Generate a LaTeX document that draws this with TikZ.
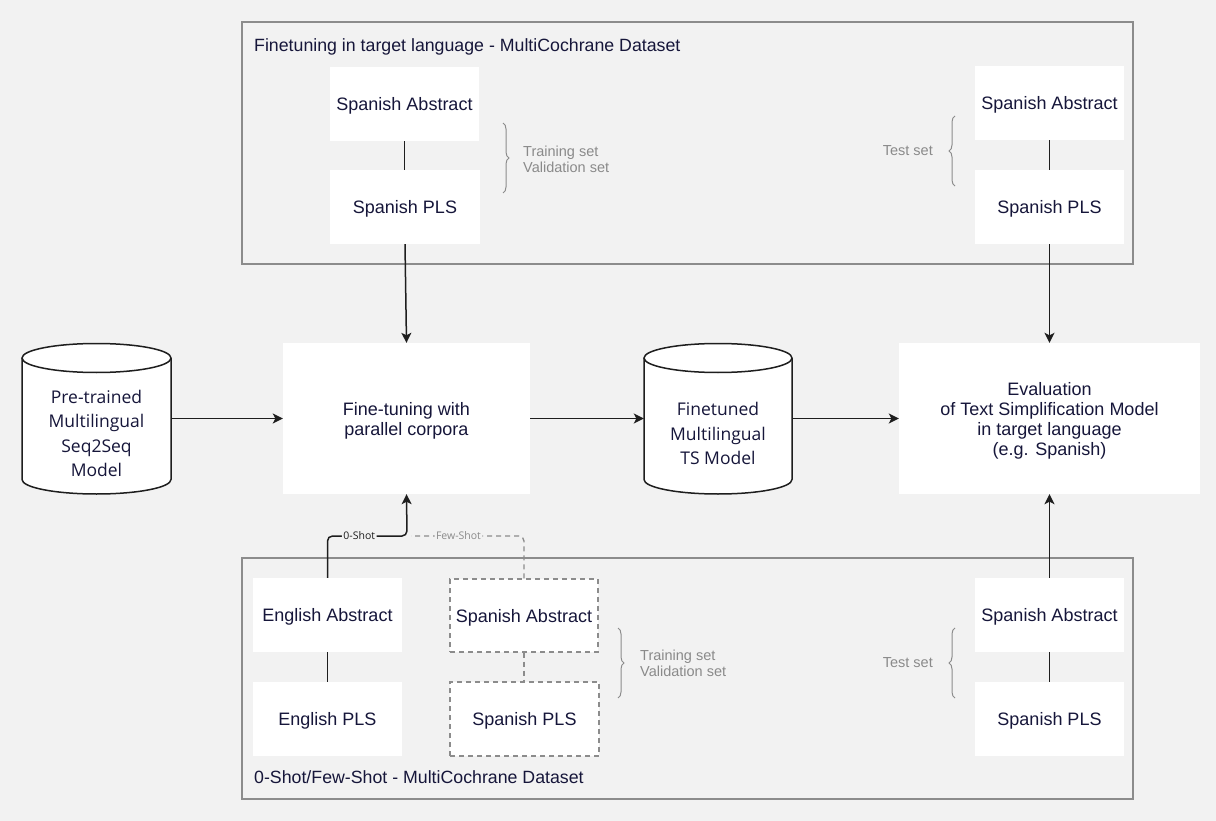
\documentclass[tikz,border=0pt]{standalone}
\usepackage{fontspec}
\setmainfont{Liberation Sans}
\newfontfamily\opensans{Open Sans}
\usetikzlibrary{arrows.meta,decorations.pathreplacing,calc}
\definecolor{bgc}{HTML}{F2F2F2}
\definecolor{txt}{HTML}{16163A}
\definecolor{frm}{HTML}{8C8C8C}
\definecolor{grt}{HTML}{8A8A8A}
\definecolor{conn}{HTML}{1E1E1E}
\tikzset{
  box/.style={rectangle, fill=white, inner sep=0pt, minimum width=149pt, minimum height=74pt, text=txt, font=\fontsize{18}{20}\selectfont, align=center, text depth=0pt},
  dbox/.style={box, draw=frm, line width=1.3pt, dash pattern=on 5pt off 4pt},
  bigbox/.style={box, minimum height=151pt},
  frame/.style={draw=frm, line width=1.5pt},
  link/.style={draw=conn, line width=1.5pt},
  arr/.style={link, -{Stealth[length=10pt,width=10pt,inset=2.5pt]}},
  dlink/.style={draw=frm, line width=1.3pt, dash pattern=on 5pt off 4pt},
  brc/.style={draw=frm, line width=1pt, decorate, decoration={brace, amplitude=6pt}},
  gtext/.style={text=grt, font=\fontsize{14.5}{16}\selectfont, inner sep=0pt},
  ttl/.style={text=txt, font=\fontsize{17.75}{20}\selectfont, inner sep=0pt, anchor=base west},
  cyltext/.style={text=txt, font=\opensans\fontsize{17.5}{24.5}\selectfont, align=center, inner sep=0pt},
  cyl/.style={draw=conn, line width=1.5pt, fill=white},
  lbl/.style={fill=bgc, inner sep=1.5pt, font=\opensans\fontsize{10.5}{12}\selectfont}
}
\begin{document}
\begin{tikzpicture}[x=1pt,y=-1pt]
\useasboundingbox (0,0) rectangle (1216,821);
\fill[bgc] (0,0) rectangle (1216,821);

% frames
\draw[frame] (242,22) rectangle (1133,264);
\draw[frame] (242,558) rectangle (1133,799);
\node[ttl] (t1) at (254,51.5) {Finetuning in target language - MultiCochrane Dataset};
\node[ttl] (t2) at (254,783.5) {0-Shot/Few-Shot - MultiCochrane Dataset};

% top boxes
\node[box] (tsa) at (404.5,104) {Spanish Abstract};
\node[box, minimum width=150pt] (tsp) at (405,207) {Spanish PLS};
\node[box] (rsa) at (1049.5,103) {Spanish Abstract};
\node[box] (rsp) at (1049.5,207) {Spanish PLS};
\draw[link] (tsa.south) -- (tsa.south |- tsp.north);
\draw[link] (rsa.south) -- (rsa.south |- rsp.north);

% braces top
\coordinate (b1a) at (503,123); \coordinate (b1b) at (503,193);
\draw[brc] (b1a) -- (b1b);
\node[gtext, anchor=west, align=left] (b1t) at (523,159) {Training set\\Validation set};
\coordinate (b2a) at (955,186); \coordinate (b2b) at (955,116);
\draw[brc] (b2a) -- (b2b);
\node[gtext, anchor=east] (b2t) at (933,151) {Test set};

% middle row
\node[bigbox, minimum width=247pt] (ft) at (406.5,418.5) {Fine-tuning with\\parallel corpora};
\node[bigbox, minimum width=301pt] (ev) at (1049.5,418.5) {Evaluation\\of Text Simplification Model\\in target language\\(e.g. Spanish)};

% cylinders
\node[inner sep=0pt, minimum width=149pt, minimum height=151pt] (pre) at (96.5,418.5) {};
\draw[cyl] (22,358) -- (22,479.5) arc[start angle=180, end angle=0, x radius=74.5, y radius=14.5] -- (171,358);
\draw[cyl] (96.5,358) ellipse[x radius=74.5, y radius=14.5];
\node[cyltext] (pret) at (96.5,433.5) {Pre-trained\\Multilingual\\Seq2Seq\\Model};

\node[inner sep=0pt, minimum width=148pt, minimum height=151pt] (fin) at (718,418.5) {};
\draw[cyl] (644,358) -- (644,479.5) arc[start angle=180, end angle=0, x radius=74, y radius=14.5] -- (792,358);
\draw[cyl] (718,358) ellipse[x radius=74, y radius=14.5];
\node[cyltext] (fint) at (718,433.5) {Finetuned\\Multilingual\\TS Model};

% arrows middle
\draw[arr] (pre.east) -- (ft.west);
\draw[arr] (ft.east) -- (fin.west);
\draw[arr] (fin.east) -- (ev.west);
\draw[arr] (tsp.south) -- (ft.north);
\draw[arr] (rsp.south) -- (ev.north);

% bottom boxes
\node[box] (ea) at (327.5,615) {English Abstract};
\node[box] (ep) at (327.5,719) {English PLS};
\node[dbox, minimum width=148pt, minimum height=73pt] (dsa) at (524,615.5) {Spanish Abstract};
\node[dbox] (dsp) at (524.5,719) {Spanish PLS};
\node[box] (bsa) at (1049.5,615) {Spanish Abstract};
\node[box] (bsp) at (1049.5,719) {Spanish PLS};
\draw[link] (ea.south) -- (ea.south |- ep.north);
\draw[dlink] (dsa.south) -- (dsa.south |- dsp.north);
\draw[link] (bsa.south) -- (bsa.south |- bsp.north);
\draw[arr] (bsa.north) -- (ev.south);

% braces bottom
\coordinate (b3a) at (618,628); \coordinate (b3b) at (618,698);
\draw[brc] (b3a) -- (b3b);
\node[gtext, anchor=west, align=left] (b3t) at (640,663) {Training set\\Validation set};
\coordinate (b4a) at (955,698); \coordinate (b4b) at (955,628);
\draw[brc] (b4a) -- (b4b);
\node[gtext, anchor=east] (b4t) at (933,663) {Test set};

% 0-shot / few-shot
\coordinate (jn) at (407,536);
\draw[dlink, rounded corners=5pt] (dsa.north) |- ($(jn)+(4,0)$) node[lbl, text=grt, pos=0.79] (fs) {Few-Shot};
\draw[arr, rounded corners=5pt] (ea.north) |- (jn) node[lbl, text=conn, pos=0.70] (zs) {0-Shot} -- (ft.south);
\end{tikzpicture}
\end{document}
